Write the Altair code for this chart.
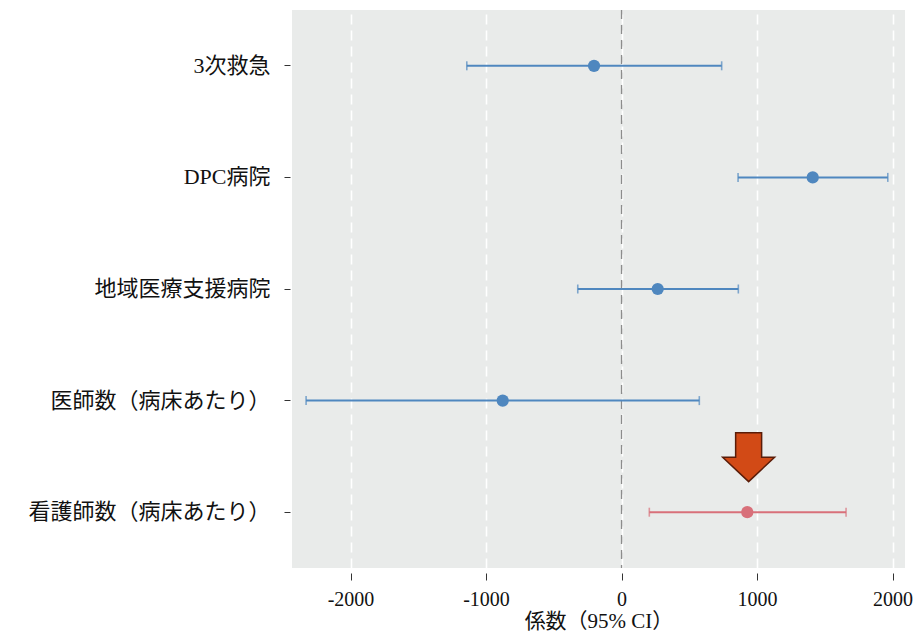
import altair as alt
import pandas as pd

# Regression coefficients with 95% confidence intervals
variables = ["3次救急", "DPC病院", "地域医療支援病院", "医師数（病床あたり）", "看護師数（病床あたり）"]
estimates = [-203, 1411, 267, -877, 928]
lower = [-1142, 860, -323, -2328, 205]
upper = [739, 1965, 862, 574, 1657]
highlight = ["no", "no", "no", "no", "yes"]

# Arrow marker pointing at the highlighted variable
arrow_variable = ["看護師数（病床あたり）"]
arrow_value = [938]

df = pd.DataFrame({
    "variable": variables,
    "estimate": estimates,
    "lower": lower,
    "upper": upper,
    "highlight": highlight,
})
arrow_df = pd.DataFrame({"variable": arrow_variable, "value": arrow_value})
zero_df = pd.DataFrame({"zero": [0]})

FONT = "Liberation Serif, Noto Sans CJK JP"

x_scale = alt.Scale(domain=[-2432, 2092], nice=False, zero=False)
y_scale = alt.Scale(type="band", domain=variables, paddingInner=0, paddingOuter=0)

line_colors = alt.Scale(domain=["no", "yes"], range=["#4f87bf", "#d8707a"])
point_colors = alt.Scale(domain=["no", "yes"], range=["#3a78b3", "#d9535f"])

x_axis = alt.Axis(
    values=[-2000, -1000, 0, 1000, 2000],
    labelExpr="'' + datum.value",
    title="係数（95% CI）",
    grid=True,
    gridColor="white",
    gridDash=[10, 6],
    gridWidth=1.6,
    domain=False,
    ticks=True,
    tickSize=7,
    tickColor="#333333",
    offset=5,
    labelPadding=9,
    labelFont=FONT,
    labelFontSize=20,
    labelColor="#111111",
    titleFont=FONT,
    titleFontSize=21,
    titleFontWeight="normal",
    titleColor="#111111",
    titlePadding=1,
)
y_axis = alt.Axis(
    title=None,
    grid=False,
    domain=False,
    ticks=True,
    tickSize=6,
    tickColor="#333333",
    offset=2,
    labelPadding=14,
    labelLimit=0,
    labelFont=FONT,
    labelFontSize=22,
    labelColor="#111111",
)

base = alt.Chart(df)

ci = base.mark_rule(strokeWidth=2).encode(
    x=alt.X("lower:Q", scale=x_scale, axis=x_axis),
    x2="upper:Q",
    y=alt.Y("variable:N", scale=y_scale, axis=y_axis, sort=variables),
    color=alt.Color("highlight:N", scale=line_colors, legend=None),
)

caps_lo = base.mark_tick(orient="vertical", size=9, thickness=1.6).encode(
    x="lower:Q",
    y=alt.Y("variable:N", sort=variables),
    color=alt.Color("highlight:N", scale=line_colors, legend=None),
)
caps_hi = base.mark_tick(orient="vertical", size=9, thickness=1.6).encode(
    x="upper:Q",
    y=alt.Y("variable:N", sort=variables),
    color=alt.Color("highlight:N", scale=line_colors, legend=None),
)

zero_line = alt.Chart(zero_df).mark_rule(
    color="#8c8c8c", strokeDash=[9, 6], strokeWidth=1.3
).encode(x="zero:Q")

points = base.mark_circle(size=150, opacity=1).encode(
    x="estimate:Q",
    y=alt.Y("variable:N", sort=variables),
    color=alt.Color("highlight:N", scale=point_colors, legend=None),
)

arrow_shape = "M -0.5 -0.94 L 0.5 -0.94 L 0.5 0 L 1 0 L 0 0.94 L -1 0 L -0.5 0 Z"
arrow = alt.Chart(arrow_df).mark_point(
    shape=arrow_shape,
    size=2700,
    filled=True,
    fill="#d24a16",
    stroke="#5a1c08",
    strokeWidth=1.5,
    opacity=1,
    fillOpacity=1,
    yOffset=-55,
).encode(
    x="value:Q",
    y=alt.Y("variable:N", sort=variables),
)

chart = (
    alt.layer(zero_line, ci, caps_lo, caps_hi, points, arrow)
    .properties(
        width=613,
        height=558,
        autosize=alt.AutoSizeParams(type="none"),
        padding={"left": 292, "top": 10, "right": 11, "bottom": 68},
        background="white",
    )
    .configure_view(fill="#e9ebea", stroke=None)
)

chart.save("out.html", embed_options={"renderer": "svg", "actions": False})
